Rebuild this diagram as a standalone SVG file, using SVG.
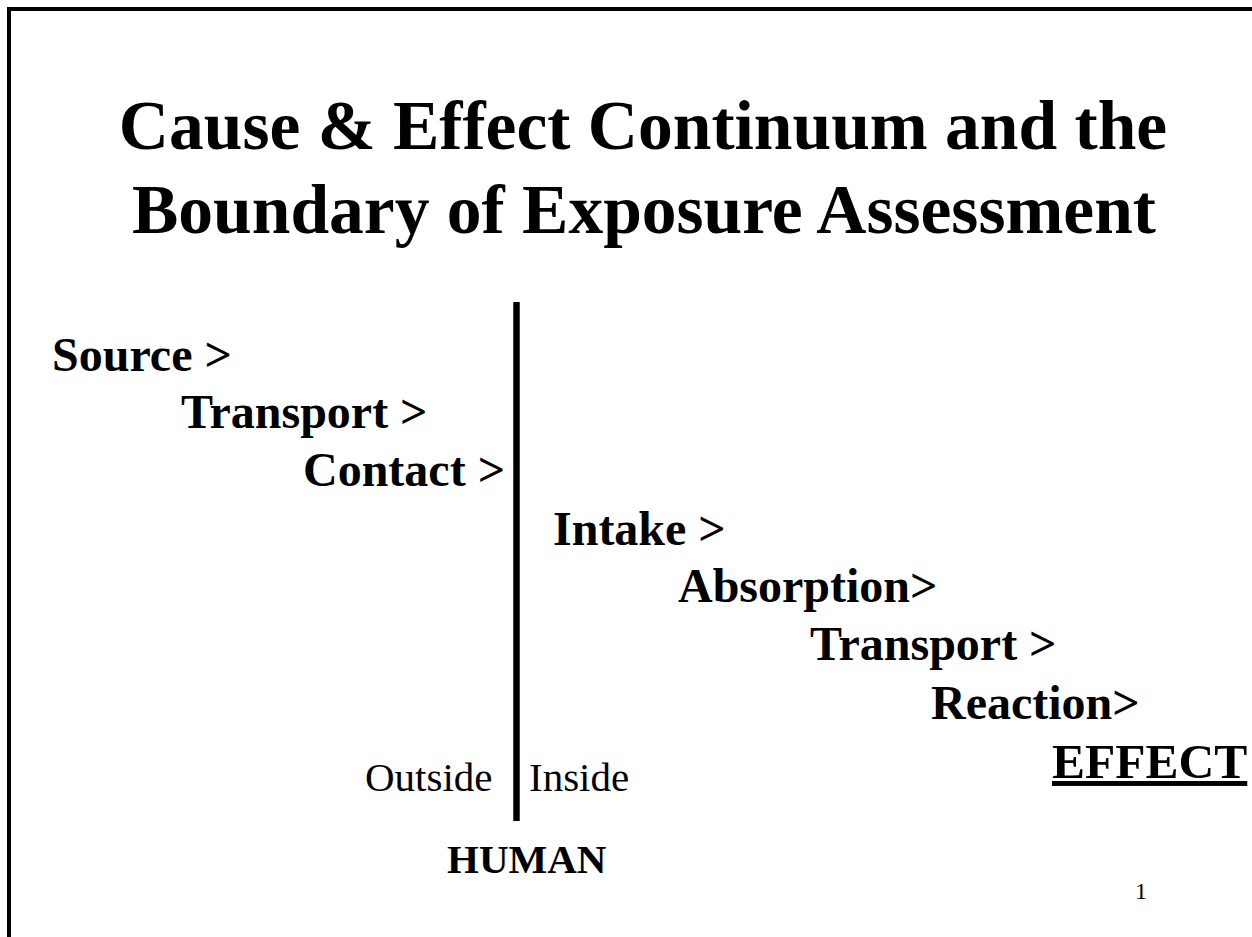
<svg xmlns="http://www.w3.org/2000/svg" width="1252" height="937" viewBox="0 0 1252 937">
<style>
.title{font-family:"Liberation Serif","Times New Roman",serif;font-weight:bold;font-size:69.5px;fill:#000;text-anchor:middle}
.step{font-family:"Liberation Serif","Times New Roman",serif;font-weight:bold;font-size:48px;fill:#000}
.lbl{font-family:"Liberation Serif","Times New Roman",serif;font-size:41px;fill:#000}
.hum{font-family:"Liberation Serif","Times New Roman",serif;font-weight:bold;font-size:41px;fill:#000}
.pg{font-family:"Liberation Serif","Times New Roman",serif;font-size:24px;fill:#000}
</style>
<rect x="0" y="0" width="1252" height="937" fill="#fff"/>
<g id="frame"><path d="M9,940 L9,9 L1260,9" fill="none" stroke="#000" stroke-width="4"/></g>
<g id="title">
<text class="title" x="643" y="149">Cause &amp; Effect Continuum and the</text>
<text class="title" x="644" y="233">Boundary of Exposure Assessment</text>
</g>
<g id="connectors">
<line x1="516.5" y1="302" x2="516.5" y2="821" stroke="#000" stroke-width="6.5"/>
</g>
<g id="n-source"><text class="step" x="52" y="371">Source &gt;</text></g>
<g id="n-transport1"><text class="step" x="181" y="428">Transport &gt;</text></g>
<g id="n-contact"><text class="step" x="303" y="486">Contact &gt;</text></g>
<g id="n-intake"><text class="step" x="553" y="545">Intake &gt;</text></g>
<g id="n-absorption"><text class="step" x="678" y="602">Absorption&gt;</text></g>
<g id="n-transport2"><text class="step" x="810" y="660">Transport &gt;</text></g>
<g id="n-reaction"><text class="step" x="931" y="719">Reaction&gt;</text></g>
<g id="n-effect"><text class="step" x="1052" y="778" style="font-size:49.5px" text-decoration="underline">EFFECT</text></g>
<g id="labels">
<text class="lbl" x="365" y="791">Outside</text>
<text class="lbl" x="529" y="791">Inside</text>
<text class="hum" x="447" y="873">HUMAN</text>
<text class="pg" x="1135" y="899">1</text>
</g>
</svg>
